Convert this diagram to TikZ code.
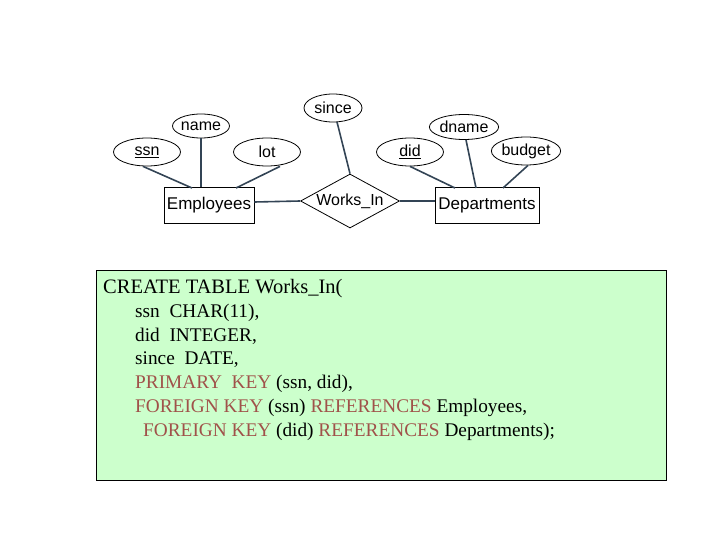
\documentclass[tikz,border=0pt]{standalone}
\usepackage{fontspec}
\setmainfont{Liberation Serif}
\newfontfamily\arial{Liberation Sans}
\usetikzlibrary{shapes.geometric}
\definecolor{ln}{HTML}{334455}
\definecolor{kw}{HTML}{A0524A}
\definecolor{bg}{HTML}{CCFFCC}
\tikzset{
  attr/.style={ellipse,draw,thick,minimum width=#1,minimum height=28pt,inner sep=0pt,font=\arial\fontsize{16}{18}\selectfont},
  ent/.style={rectangle,draw,thick,minimum width=90pt,minimum height=36pt,inner sep=0pt,font=\arial\fontsize{17}{19}\selectfont},
  rel/.style={diamond,draw,thick,minimum width=99pt,minimum height=54pt,inner sep=0pt,aspect=1.8,font=\arial\fontsize{16}{18}\selectfont},
  conn/.style={ln,line width=1.6pt},
  code/.style={anchor=base west,inner sep=0pt,font=\fontsize{19.3}{22}\selectfont}
}
\begin{document}
\begin{tikzpicture}[x=1pt,y=-1pt]
\useasboundingbox (0,0) rectangle (720,540);
\node[attr=67pt] (ssn) at (147,152) {\underline{ssn}};
\node[attr=57pt,minimum height=24pt] (name) at (201,126) {name};
\node[attr=67pt] (lot) at (267,152) {lot};
\node[attr=58pt] (since) at (333,108) {since};
\node[attr=67pt] (did) at (410,152) {\underline{did}};
\node[attr=58pt,minimum height=25pt] (dname) at (464,127) {dname};
\node[attr=59pt] (budget) at (526,151) {budget};
\node[ent] (emp) at (209,205) {Employees};
\node[rel] (wi) at (350,201) {\raisebox{3pt}{Works\_In}};
\node[ent,minimum width=104pt] (dep) at (487,205) {Departments};
\draw[conn] (ssn.south) ++(-4,0) coordinate (a1) -- (192,188);
\draw[conn] (name.south) -- (emp.north -| name.south);
\draw[conn] (lot.south) ++(13,0) -- (236,188);
\draw[conn] (since) ++(4,14) -- (wi.north);
\draw[conn] (did.south) -- (455,188);
\draw[conn] (dname.south) ++(2,0) -- (476,188);
\draw[conn] (budget.south) ++(2,0) -- (503,188);
\draw[conn] (emp.east) ++(0,-3) -- (wi.west);
\draw[conn] (wi.east) -- ++(35,0);
\node[draw,fill=bg,minimum width=570pt,minimum height=210pt,inner sep=0pt,anchor=north west] (box) at (96,270) {};
\node[code,font=\fontsize{20.5}{22}\selectfont] (l1) at (103,293) {CREATE TABLE Works\_In(};
\node[code] (l2) at (135,317) {ssn\ \ CHAR(11),};
\node[code] (l3) at (135,341) {did\ \ INTEGER,};
\node[code] (l4) at (135,364) {since\ \ DATE,};
\node[code] (l5) at (135,388) {\textcolor{kw}{PRIMARY\ \ KEY} (ssn, did),};
\node[code] (l6) at (135,412) {\textcolor{kw}{FOREIGN KEY} (ssn) \textcolor{kw}{REFERENCES} Employees,};
\node[code] (l7) at (143,436) {\textcolor{kw}{FOREIGN KEY} (did) \textcolor{kw}{REFERENCES} Departments);};
\end{tikzpicture}
\end{document}
